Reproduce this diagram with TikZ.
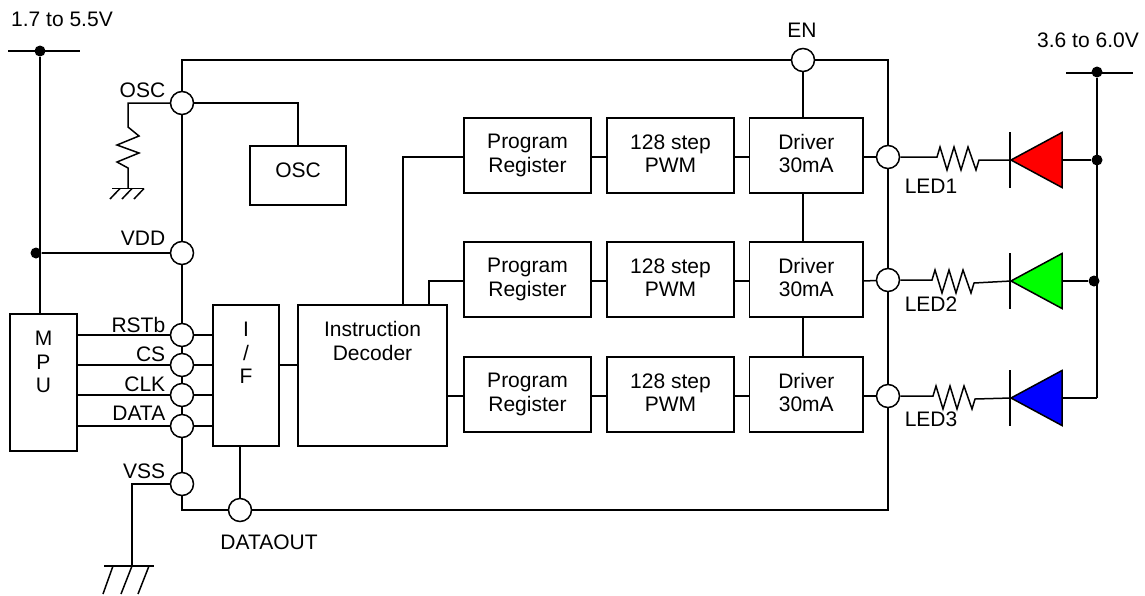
\documentclass[tikz,border=0pt]{standalone}
\usepackage{fontspec}
\setmainfont{Liberation Sans}
\usetikzlibrary{calc}
\tikzset{
	blk/.style={draw,rectangle,inner sep=0pt,align=center,text depth=4pt},
	pin/.style={draw,circle,fill=white,inner sep=0pt,minimum size=23pt},
	dot/.style={circle,fill=black,inner sep=0pt,minimum size=11pt},
	txt/.style={inner sep=0pt,align=center},
	pinname/.style={inner sep=0pt,anchor=base east},
	ledname/.style={inner sep=0pt,anchor=base west}
}
\newcommand{\reshoriz}{-- ++(3,-10) -- ++(7,23) -- ++(7,-23) -- ++(7,23) -- ++(7,-23) -- ++(8,23) -- ++(3,-10)}
\begin{document}
\begin{tikzpicture}[x=1pt,y=-1pt,line width=1.5pt,font=\fontsize{21}{23.5}\selectfont]
	\useasboundingbox (0,0) rectangle (1145,595);
	% blocks
	\node[blk,text depth=10pt,minimum width=96pt,minimum height=59pt] (oscbox) at (298,175.5) {OSC};
	\node[blk,minimum width=67pt,minimum height=137pt] (mpu) at (43.5,382.5) {};
	\node[txt] (mputxt) at (43.5,362) {M\\P\\U};
	\node[blk,minimum width=66pt,minimum height=141pt] (if) at (246,375.5) {};
	\node[txt] (iftxt) at (246,353) {I\\/\\F};
	\node[blk,minimum width=149pt,minimum height=141pt] (dec) at (372.5,375.5) {};
	\node[txt] (dectxt) at (372.5,341) {Instruction\\Decoder};
	\foreach \i/\y in {1/155.5,2/279.5,3/394.5}{
		\node[blk,minimum width=127pt,minimum height=75pt] (prog\i) at (527.5,\y) {Program\\Register};
		\node[blk,minimum width=127pt,minimum height=75pt] (pwm\i) at (670.5,\y) {128 step\\PWM};
		\node[blk,minimum width=113.5pt,minimum height=75pt] (drv\i) at (806.25,\y) {Driver\\30mA};
	}
	% pins
	\node[pin] (posc) at (182,103) {};
	\node[pin] (pvdd) at (182,253) {};
	\node[pin] (prst) at (182,335) {};
	\node[pin] (pcs) at (182,365) {};
	\node[pin] (pclk) at (182,395) {};
	\node[pin] (pdata) at (182,426) {};
	\node[pin] (pvss) at (182,484) {};
	\node[pin] (pdout) at (240,510) {};
	\node[pin] (pen) at (803,60) {};
	\node[pin] (pled1) at (888,157) {};
	\node[pin] (pled2) at (888,280) {};
	\node[pin] (pled3) at (888,396) {};
	% chip outline
	\draw (posc)--(pvdd)--(prst)--(pcs)--(pclk)--(pdata)--(pvss);
	\draw (posc)|-(pen);
	\draw (pen)-|(pled1);
	\draw (pled1)--(pled2)--(pled3);
	\draw (pled3)|-(pdout);
	\draw (pvss)|-(pdout);
	% inside
	\draw (posc)-|(oscbox);
	\draw (pen)--(pen|-drv1.north);
	\draw (drv1.south-|pen)--(drv2.north-|pen);
	\draw (drv2.south-|pen)--(drv3.north-|pen);
	\draw (if.east|-pcs)--(dec.west|-pcs);
	\draw (if.south-|pdout)--(pdout);
	\draw (prog1.west|-0,157)-|(403,305);
	\draw (prog2.west|-0,281)-|(429,305);
	\draw (dec.east|-0,396)--(prog3.west|-0,396);
	\foreach \i/\y in {1/157,2/281,3/396}{
		\draw (prog\i.east|-0,\y)--(pwm\i.west|-0,\y);
		\draw (pwm\i.east|-0,\y)--(drv\i.west|-0,\y);
		\draw (drv\i.east|-0,\y)--(pled\i);
	}
	% MPU side
	\foreach \p in {prst,pcs,pclk,pdata}{
		\draw (mpu.east|-\p)--(\p);
		\draw (\p)--(if.west|-\p);
	}
	\coordinate (vcca) at (8,51);
	\coordinate (vccb) at (80,51);
	\node[dot] (dota) at (40,51) {};
	\node[dot] (dotb) at (36,253) {};
	\draw (vcca)--(vccb);
	\draw (dota)--(dota|-mpu.north);
	\draw (dotb)--(pvdd);
	% external resistor and grounds
	\draw (posc)-|(128,127)--(139,136)--(117,145)--(139,153)--(117,162)--(128,168)--(128,188.5);
	\draw (112,188.5)--(144,188.5);
	\draw (120,188.5)--(110,199) (132,188.5)--(122,199) (144,188.5)--(134,199);
	\draw (pvss)-|(132,566);
	\draw (104,566)--(154,566);
	\draw (113,566)--(103,594) (132,566)--(121,594) (149,566)--(138,594);
	% LEDs
	\coordinate (vlda) at (1066,73);
	\coordinate (vldb) at (1133,73);
	\node[dot] (dotc) at (1097,72) {};
	\draw (vlda)--(vldb);
	\draw (pled1)--(937,157)\reshoriz--(1011,160);
	\draw (pled2)--(932,280)\reshoriz--(1011,281);
	\draw (pled3)--(933,396)\reshoriz--(1011,398);
	\foreach \i/\c/\y in {1/red/160,2/green/281,3/blue/398}{
		\draw (1010,\y-28)--(1010,\y+28);
		\draw[fill=\c] (1011,\y)--(1062,\y-27.5)--(1062,\y+27.5)--cycle;
	}
	\node[dot] (dotd) at (1097,160) {};
	\node[dot] (dote) at (1094,281) {};
	\coordinate (ledend) at (1097,398);
	\draw (1062,160)--(dotd);
	\draw (1062,281)--(dote);
	\draw (1062,398)--(ledend);
	\draw (dotc)--(ledend);
	% labels
	\node[pinname] (losc) at (166,97) {OSC};
	\node[pinname] (lvdd) at (166,245) {VDD};
	\node[pinname] (lrst) at (166,332) {RSTb};
	\node[pinname] (lcs) at (166,361) {CS};
	\node[pinname] (lclk) at (166,391) {CLK};
	\node[pinname] (ldata) at (166,420) {DATA};
	\node[pinname] (lvss) at (166,478) {VSS};
	\node[inner sep=0pt,anchor=base] (ldout) at (269,549) {DATAOUT};
	\node[inner sep=0pt,anchor=base] (len) at (802,37) {EN};
	\node[inner sep=0pt,anchor=base] (lva) at (62,26) {1.7 to 5.5V};
	\node[inner sep=0pt,anchor=base] (lvb) at (1088,47) {3.6 to 6.0V};
	\node[ledname] (lled1) at (904,193) {LED1};
	\node[ledname] (lled2) at (904,311) {LED2};
	\node[ledname] (lled3) at (904,426) {LED3};
\end{tikzpicture}
\end{document}
